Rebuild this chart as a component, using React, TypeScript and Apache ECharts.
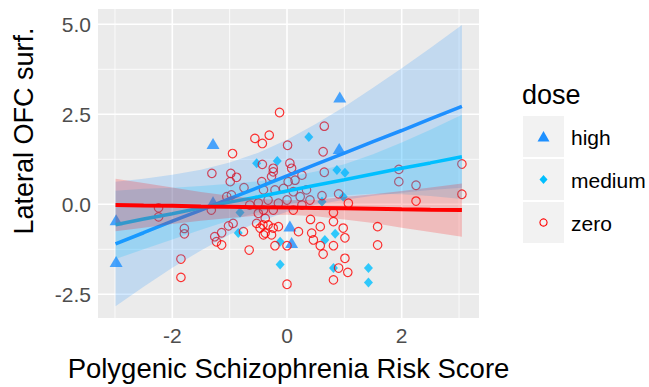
import React, { useEffect, useRef } from "react";
import * as echarts from "echarts";

// ---- data ----
const highPoints: [number, number][] = [
  [-2.98, -0.43], [-2.98, -1.59], [-1.29, 1.69], [-1.29, 0.07],
  [0.05, -0.6], [0.08, -1.06], [0.91, 1.55], [0.92, 2.98],
];

const mediumPoints: [number, number][] = [
  [-0.53, 1.14], [-0.17, 1.2], [0.38, 1.87], [0.87, 0.95], [1.01, 0.88],
  [0.61, 0.07], [0.98, 0.21], [-0.82, -0.23], [-0.85, -0.8], [-0.12, -1.04],
  [-0.12, -1.67], [0.84, -0.82], [0.66, -0.99], [0.81, -1.77], [1.42, -1.77],
  [1.42, -2.17],
];

const zeroPoints: [number, number][] = [
  [-2.24, -0.1], [-2.24, -0.35], [-1.79, -0.67], [-1.79, -0.82], [-1.85, -1.52], [-1.85, -2.03],
  [-1.31, 0.86], [-1.32, -0.16], [-0.95, 1.41], [-0.98, 0.86], [-0.88, 0.75], [-0.99, 0.63], [-0.75, 0.46],
  [-0.56, 1.83], [-0.43, 1.69], [-0.31, 1.92], [-0.43, 1.11], [-0.44, 0.63], [-0.41, 0.4], [-0.97, 0.26], [-1.05, 0.21],
  [-0.65, -0.02], [-0.5, 0.04], [-0.5, -0.25], [-0.53, -0.53], [-1.02, -0.6], [-0.94, -0.53], [-0.76, -0.76],
  [-1.14, -0.79], [-1.26, -0.9], [-1.23, -1.04], [-1.14, -1.13], [-0.66, -1.27], [-0.47, -0.66], [-0.41, -0.85],
  [-0.13, 2.55], [0.01, 1.64], [-0.24, 1.0], [-0.24, 0.9], [-0.27, 0.77], [0.05, 1.14], [0.08, 1.0], [0.02, 0.63],
  [0.14, 0.67], [0.26, 0.81], [-0.21, 0.4], [-0.06, 0.44], [0.11, 0.35], [0.23, 0.21], [0.34, 0.4], [0.4, 0.12],
  [-0.33, 0.12], [-0.15, 0.03], [0.0, 0.12], [0.11, -0.16], [0.26, -0.02], [-0.24, -0.16], [-0.41, -0.16],
  [-0.38, -0.39], [-0.42, -0.57], [-0.33, -0.57], [-0.24, -0.66], [-0.15, -0.62], [-0.38, -0.8], [-0.27, -0.85],
  [0.41, -0.42], [0.2, -0.76], [0.43, -0.8], [0.46, -0.99], [-0.21, -1.15], [0.0, -1.15], [0.0, -2.22],
  [0.65, 2.17], [0.63, 1.46], [0.65, 0.89], [0.61, 0.24], [0.9, 0.29], [1.07, 0.03], [0.81, -0.23], [0.81, -0.48],
  [0.58, -0.62], [0.98, -0.66], [1.01, -0.93], [0.58, -1.15], [0.63, -1.38], [0.81, -1.15], [1.01, -1.5],
  [0.9, -1.77], [1.06, -1.89], [0.81, -2.1], [1.58, -0.62], [1.58, -1.13],
  [1.95, 0.97], [1.95, 0.63], [2.25, 0.53], [2.25, 0.09], [3.05, 1.12], [3.05, 0.28],
];

// fitted lines and confidence ribbons, read at these x positions
const bandX = [-2.99, -2.5, -2, -1.5, -1, -0.5, 0, 0.5, 1, 1.5, 2, 2.5, 3.05];
const highFit = [-1.1, -0.79, -0.47, -0.16, 0.16, 0.47, 0.79, 1.11, 1.42, 1.74, 2.05, 2.37, 2.72];
const highLower = [-2.83, -2.29, -1.76, -1.28, -0.84, -0.49, -0.21, -0.01, 0.13, 0.24, 0.32, 0.4, 0.46];
const highUpper = [0.63, 0.71, 0.82, 0.96, 1.16, 1.43, 1.79, 2.23, 2.71, 3.24, 3.78, 4.34, 4.98];
const mediumFit = [-0.57, -0.41, -0.26, -0.1, 0.06, 0.21, 0.37, 0.53, 0.68, 0.84, 1.0, 1.15, 1.32];
const mediumLower = [-1.52, -1.25, -0.98, -0.71, -0.45, -0.22, -0.01, 0.15, 0.25, 0.29, 0.28, 0.23, 0.15];
const mediumUpper = [0.38, 0.43, 0.46, 0.51, 0.57, 0.64, 0.75, 0.91, 1.11, 1.39, 1.72, 2.07, 2.49];
const zeroFit = [-0.02, -0.03, -0.04, -0.06, -0.07, -0.08, -0.09, -0.1, -0.11, -0.12, -0.14, -0.15, -0.16];
const zeroLower = [-0.75, -0.65, -0.55, -0.46, -0.38, -0.31, -0.29, -0.33, -0.42, -0.52, -0.65, -0.77, -0.9];
const zeroUpper = [0.71, 0.59, 0.47, 0.34, 0.24, 0.15, 0.11, 0.13, 0.2, 0.28, 0.37, 0.47, 0.58];

const xTicks = [-2, 0, 2];
const xMinor = [-3, -1, 1, 3];
const yTicks = [-2.5, 0, 2.5, 5];
const yMinor = [-1.25, 1.25, 3.75];

const legendLabels = ["high", "medium", "zero"];

const HIGH = "#1E90FF";
const MEDIUM = "#00BFFF";
const ZERO = "#FF0000";
const FONT = "'Liberation Sans', Arial, sans-serif";

function band(name: string, lower: number[], upper: number[], color: string, z: number) {
  return {
    name,
    type: "custom",
    data: [[bandX[0], lower[0]]],
    silent: true,
    z,
    renderItem: (_params: any, api: any) => {
      const bottom = bandX.map((x, i) => api.coord([x, lower[i]]));
      const top = bandX.map((x, i) => api.coord([x, upper[i]])).reverse();
      return {
        type: "polygon",
        shape: { points: bottom.concat(top) },
        style: { fill: color, stroke: "none" },
      };
    },
  };
}

function fitLine(name: string, fit: number[], color: string, width: number, z: number) {
  return {
    name,
    type: "line",
    data: bandX.map((x, i) => [x, fit[i]]),
    symbol: "none",
    lineStyle: { color, width },
    silent: true,
    z,
  };
}

// gridline specs: [value, isVertical, width]
const gridSpecs = [
  ...xMinor.map((v) => [v, 1, 0.8]),
  ...yMinor.map((v) => [v, 0, 0.8]),
  ...xTicks.map((v) => [v, 1, 1.6]),
  ...yTicks.map((v) => [v, 0, 1.6]),
];

export default function App() {
  const ref = useRef<HTMLDivElement>(null);
  useEffect(() => {
    if (!ref.current) return;
    const chart = echarts.init(ref.current, undefined, { renderer: "svg" });
    const option: any = {
      animation: false,
      backgroundColor: "#FFFFFF",
      grid: {
        left: 98,
        right: 170,
        top: 9,
        bottom: 69,
        show: true,
        backgroundColor: "#EBEBEB",
        borderWidth: 0,
        containLabel: false,
        outerBoundsMode: "none",
      },
      xAxis: {
        type: "value",
        min: -3.296,
        max: 3.348,
        axisLine: { show: false },
        splitLine: { show: false },
        axisTick: { show: true, length: 4, lineStyle: { color: "#333333", width: 1 }, customValues: xTicks },
        axisLabel: {
          customValues: xTicks,
          formatter: (v: number) => String(v),
          color: "#4D4D4D",
          fontSize: 21,
          fontFamily: FONT,
          margin: 7,
        },
        name: "Polygenic Schizophrenia Risk Score",
        nameLocation: "middle",
        nameGap: 36,
        nameTextStyle: { color: "#000000", fontSize: 27.5, fontFamily: FONT },
      },
      yAxis: {
        type: "value",
        min: -3.158,
        max: 5.425,
        axisLine: { show: false },
        splitLine: { show: false },
        axisTick: { show: true, length: 4, lineStyle: { color: "#333333", width: 1 }, customValues: yTicks },
        axisLabel: {
          customValues: yTicks,
          formatter: (v: number) => v.toFixed(1),
          color: "#4D4D4D",
          fontSize: 21,
          fontFamily: FONT,
          margin: 7,
        },
      },
      graphic: [
        {
          type: "text",
          x: 24,
          y: 131,
          rotation: Math.PI / 2,
          style: {
            text: "Lateral OFC surf.",
            fill: "#000000",
            font: `27px ${FONT}`,
            textAlign: "center",
            textVerticalAlign: "middle",
          },
        },
        {
          type: "text",
          x: 522,
          y: 95,
          style: {
            text: "dose",
            fill: "#000000",
            font: `27px ${FONT}`,
            textAlign: "left",
            textVerticalAlign: "middle",
          },
        },
        ...[116, 159, 202].map((y) => ({
          type: "rect",
          shape: { x: 523, y, width: 41, height: 41 },
          style: { fill: "#F2F2F2" },
        })),
        {
          type: "polygon",
          shape: { points: [[543.5, 131], [549.5, 141.5], [537.5, 141.5]] },
          style: { fill: HIGH },
        },
        {
          type: "polygon",
          shape: { points: [[543.5, 175], [547.5, 179.5], [543.5, 184], [539.5, 179.5]] },
          style: { fill: MEDIUM },
        },
        {
          type: "circle",
          shape: { cx: 543.5, cy: 222.5, r: 3.6 },
          style: { fill: "none", stroke: ZERO, lineWidth: 1.1 },
        },
        ...legendLabels.map((t, i) => ({
          type: "text",
          x: 571,
          y: 137 + i * 43,
          style: {
            text: t,
            fill: "#000000",
            font: `21px ${FONT}`,
            textAlign: "left",
            textVerticalAlign: "middle",
          },
        })),
      ],
      series: [
        {
          name: "gridlines",
          type: "custom",
          data: gridSpecs,
          silent: true,
          z: 1,
          renderItem: (params: any, api: any) => {
            const cs = params.coordSys;
            const v = api.value(0);
            const vertical = api.value(1) === 1;
            const w = api.value(2);
            if (vertical) {
              const p = api.coord([v, 0]);
              return {
                type: "line",
                shape: { x1: p[0], y1: cs.y, x2: p[0], y2: cs.y + cs.height },
                style: { stroke: "#FFFFFF", lineWidth: w },
              };
            }
            const p = api.coord([0, v]);
            return {
              type: "line",
              shape: { x1: cs.x, y1: p[1], x2: cs.x + cs.width, y2: p[1] },
              style: { stroke: "#FFFFFF", lineWidth: w },
            };
          },
        },
        {
          name: "high",
          type: "scatter",
          data: highPoints,
          symbol: "triangle",
          symbolSize: [13, 11],
          itemStyle: { color: HIGH },
          silent: true,
          z: 2,
        },
        {
          name: "medium",
          type: "scatter",
          data: mediumPoints,
          symbol: "diamond",
          symbolSize: [9, 10],
          itemStyle: { color: MEDIUM },
          silent: true,
          z: 2,
        },
        {
          name: "zero",
          type: "scatter",
          data: zeroPoints,
          symbol: "circle",
          symbolSize: 8.5,
          itemStyle: { color: "rgba(0,0,0,0)", borderColor: ZERO, borderWidth: 1.2 },
          silent: true,
          z: 2,
        },
        band("highBand", highLower, highUpper, "rgba(30,144,255,0.2)", 3),
        fitLine("highFit", highFit, HIGH, 3.5, 4),
        band("mediumBand", mediumLower, mediumUpper, "rgba(0,191,255,0.2)", 5),
        fitLine("mediumFit", mediumFit, MEDIUM, 3.5, 6),
        band("zeroBand", zeroLower, zeroUpper, "rgba(255,0,0,0.2)", 7),
        fitLine("zeroFit", zeroFit, ZERO, 4, 8),
      ],
    };
    chart.setOption(option);
    return () => chart.dispose();
  }, []);
  return (
    <div
      ref={ref}
      style={{ position: "absolute", left: 0, top: 0, width: 649, height: 387, background: "#FFFFFF" }}
    />
  );
}
